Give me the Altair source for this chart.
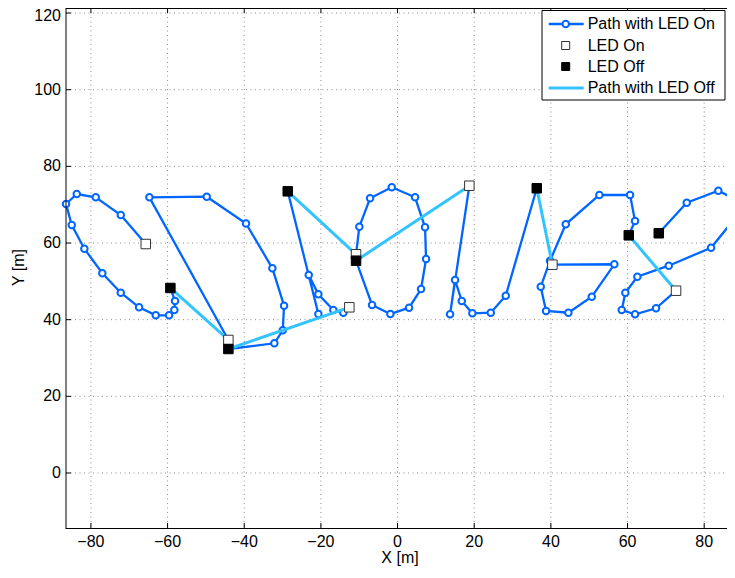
import altair as alt
import pandas as pd

BLUE = "#0066ff"
LIGHT = "#33c4ff"
FONT = "Liberation Sans"
GRID = "#8c8c8c"

# LED switch points (start / end of each stroke)
led_on_x = [-65.69, -44.14, -12.58, -10.83, 18.73, 40.39, 72.66]
led_on_y = [59.74, 34.70, 43.23, 57.06, 74.95, 54.34, 47.56]
led_off_x = [-59.27, -44.14, -28.65, -10.83, 36.32, 60.32, 68.15]
led_off_y = [48.27, 32.35, 73.49, 55.39, 74.28, 62.01, 62.54]

# interior waypoints of each stroke (path with LED on)
path_x = [
    [-72.21, -78.74, -83.69, -86.49, -85.00, -81.71, -77.02, -72.21, -67.44, -63.08, -59.61, -58.23, -58.05],
    [-64.75, -49.78, -39.53, -32.66, -29.61, -29.95, -32.14],
    [-14.14, -16.75, -20.66, -23.17, -20.66],
    [-9.97, -7.17, -1.51, 4.57, 7.17, 7.44, 6.13, 3.00, -1.88, -6.65],
    [13.70, 15.00, 16.75, 19.51, 24.32, 28.23],
    [56.56, 50.67, 44.56, 38.74, 37.36, 39.79, 43.88, 52.65, 60.66, 61.96],
    [67.44, 61.96, 58.49, 59.43, 62.56, 70.75, 81.79, 87.19, 88.70, 83.69, 75.45],
]
path_y = [
    [67.31, 71.93, 72.79, 70.18, 64.70, 58.52, 52.10, 47.04, 43.23, 41.14, 41.14, 42.53, 44.87],
    [71.93, 72.08, 65.09, 53.40, 43.65, 37.23, 33.84],
    [41.82, 42.53, 46.62, 51.66, 41.48],
    [64.26, 71.67, 74.54, 71.93, 64.10, 55.83, 48.00, 43.13, 41.48, 43.83],
    [41.40, 50.35, 44.87, 41.66, 41.82, 46.26],
    [54.45, 46.00, 41.82, 42.26, 48.60, 55.39, 64.88, 72.53, 72.53, 65.74],
    [42.97, 41.40, 42.53, 47.04, 51.21, 54.08, 58.78, 65.41, 71.10, 73.65, 70.52],
]

x_ticks = [-80, -60, -40, -20, 0, 20, 40, 60, 80]
y_ticks = [0, 20, 40, 60, 80, 100, 120]
x_title = "X [m]"
y_title = "Y [m]"
legend_labels = ["Path with LED On", "LED On", "LED Off", "Path with LED Off"]

# ---- build tables ----
rows = []
for s in range(len(led_on_x)):
    xs_ = [led_on_x[s]] + path_x[s] + [led_off_x[s]]
    ys_ = [led_on_y[s]] + path_y[s] + [led_off_y[s]]
    for i, (a, b) in enumerate(zip(xs_, ys_)):
        rows.append({"x": a, "y": b, "seg": s, "idx": i})
on_df = pd.DataFrame(rows)

off_rows = []
for s in range(len(led_off_x) - 1):
    off_rows.append({"x": led_off_x[s], "y": led_off_y[s], "seg": s, "idx": 0})
    off_rows.append({"x": led_on_x[s + 1], "y": led_on_y[s + 1], "seg": s, "idx": 1})
off_df = pd.DataFrame(off_rows)

on_pts = pd.DataFrame({"x": led_on_x, "y": led_on_y})
off_pts = pd.DataFrame({"x": led_off_x, "y": led_off_y})
fmt = lambda v: str(v).replace("-", "\u2212")
xt_df = pd.DataFrame({"v": x_ticks, "lab": [fmt(v) for v in x_ticks]})
yt_df = pd.DataFrame({"v": y_ticks, "lab": [fmt(v) for v in y_ticks]})
one = pd.DataFrame({"a": [0]})

W, H = 661, 520
PX = 3.833  # pixels per metre (equal aspect)
X0 = -86.5
Y0 = -14.35
xs = alt.Scale(domain=[X0, X0 + W / PX], nice=False, zero=False)
ys = alt.Scale(domain=[Y0, Y0 + H / PX], nice=False, zero=False)

X = lambda f="x": alt.X(f + ":Q", scale=xs, axis=None)
Y = lambda f="y": alt.Y(f + ":Q", scale=ys, axis=None)

# ---- grid (dotted) ----
grid_x = alt.Chart(xt_df).mark_rule(color=GRID, strokeWidth=1, strokeDash=[1, 3.5]).encode(
    x=X("v"), y=alt.value(0), y2=alt.value(H))
grid_y = alt.Chart(yt_df).mark_rule(color=GRID, strokeWidth=1, strokeDash=[1, 3.5]).encode(
    y=Y("v"), x=alt.value(0), x2=alt.value(W))

# ---- data ----
on_line = alt.Chart(on_df).mark_line(color=BLUE, strokeWidth=2.3).encode(
    x=X(), y=Y(), detail="seg:N", order="idx:Q")
on_circles = alt.Chart(on_df).mark_point(
    shape="circle", filled=True, fill="white", stroke=BLUE, strokeWidth=2,
    size=42, opacity=1).encode(x=X(), y=Y())
off_line = alt.Chart(off_df).mark_line(color=LIGHT, strokeWidth=3).encode(
    x=X(), y=Y(), detail="seg:N", order="idx:Q")
on_sq = alt.Chart(on_pts).mark_point(
    shape="square", filled=True, fill="white", stroke="#333333", strokeWidth=1,
    size=90, opacity=1).encode(x=X(), y=Y())
off_sq = alt.Chart(off_pts).mark_point(
    shape="square", filled=True, fill="black", stroke="black", strokeWidth=1,
    size=90, opacity=1).encode(x=X(), y=Y())

# ---- axes box, inward ticks, labels, titles ----
left_dom = alt.Chart(one).mark_rule(color="black", strokeWidth=1).encode(
    x=alt.value(0), y=alt.value(0), y2=alt.value(H + 1))
bottom_dom = alt.Chart(one).mark_rule(color="black", strokeWidth=1).encode(
    y=alt.value(H + 0.5), x=alt.value(0), x2=alt.value(W))
top_dom = alt.Chart(one).mark_rule(color="black", strokeWidth=1).encode(
    y=alt.value(0.5), x=alt.value(0), x2=alt.value(W))
tick_b = alt.Chart(xt_df).mark_rule(color="black").encode(
    x=X("v"), y=alt.value(H), y2=alt.value(H - 5))
tick_t = alt.Chart(xt_df).mark_rule(color="black").encode(
    x=X("v"), y=alt.value(0), y2=alt.value(5))
tick_l = alt.Chart(yt_df).mark_rule(color="black").encode(
    y=Y("v"), x=alt.value(0), x2=alt.value(5))
lab_x = alt.Chart(xt_df).mark_text(align="center", baseline="middle", font=FONT,
                                   fontSize=16, color="black").encode(
    x=X("v"), y=alt.value(H + 14), text="lab:N")
lab_y = alt.Chart(yt_df).transform_filter("datum.v < 110").mark_text(
    align="right", baseline="middle", font=FONT, fontSize=16, color="black").encode(
    y=Y("v"), x=alt.value(-5), text="lab:N")
lab_y_top = alt.Chart(yt_df).transform_filter("datum.v >= 110").mark_text(
    align="right", baseline="middle", font=FONT, fontSize=16, color="black", dy=3).encode(
    y=Y("v"), x=alt.value(-5), text="lab:N")
title_x = alt.Chart(one).mark_text(text=x_title, align="center", baseline="middle",
                                   font=FONT, fontSize=16, color="black").encode(
    x=alt.value(334), y=alt.value(550))
title_y = alt.Chart(one).mark_text(text=y_title, align="center", baseline="middle",
                                   font=FONT, fontSize=16, color="black", angle=270).encode(
    x=alt.value(-47), y=alt.value(259.5))

# ---- legend ----
LX0, LX1, LY0, LY1 = 476, 659, 2.5, 92
LM = 497.7
row_y = [16, 37.5, 58.5, 80]
leg_box = alt.Chart(one).mark_rect(fill="white", stroke="black", strokeWidth=1).encode(
    x=alt.value(LX0), x2=alt.value(LX1), y=alt.value(LY0), y2=alt.value(LY1))
leg_l1 = alt.Chart(one).mark_rule(color=BLUE, strokeWidth=2.3).encode(
    x=alt.value(LM - 15), x2=alt.value(LM + 20), y=alt.value(row_y[0]))
leg_c1 = alt.Chart(one).mark_point(shape="circle", filled=True, fill="white",
                                   stroke=BLUE, strokeWidth=2, size=42, opacity=1).encode(
    x=alt.value(LM + 2), y=alt.value(row_y[0]))
leg_s2 = alt.Chart(one).mark_point(shape="square", filled=True, fill="white",
                                   stroke="#333333", strokeWidth=1, size=64, opacity=1).encode(
    x=alt.value(LM + 2), y=alt.value(row_y[1]))
leg_s3 = alt.Chart(one).mark_point(shape="square", filled=True, fill="black",
                                   stroke="black", strokeWidth=1, size=64, opacity=1).encode(
    x=alt.value(LM + 2), y=alt.value(row_y[2]))
leg_l4 = alt.Chart(one).mark_rule(color=LIGHT, strokeWidth=3).encode(
    x=alt.value(LM - 15), x2=alt.value(LM + 20), y=alt.value(row_y[3]))
leg_txt = [
    alt.Chart(one).mark_text(text=lab, align="left", baseline="middle", font=FONT,
                             fontSize=16, color="black").encode(
        x=alt.value(LM + 24), y=alt.value(row_y[i]))
    for i, lab in enumerate(legend_labels)
]

chart = alt.layer(
    grid_x, grid_y,
    on_line, on_circles, off_line, on_sq, off_sq,
    left_dom, bottom_dom, top_dom, tick_b, tick_t, tick_l,
    lab_x, lab_y, lab_y_top, title_x, title_y,
    leg_box, leg_l1, leg_c1, leg_s2, leg_s3, leg_l4, *leg_txt
).properties(
    width=W, height=H,
    autosize=alt.AutoSizeParams(type="none"),
    padding={"left": 58, "top": 0, "right": 0, "bottom": 38},
).configure_view(stroke=None)

chart.save("out.html", embed_options={"renderer": "svg", "actions": False})
